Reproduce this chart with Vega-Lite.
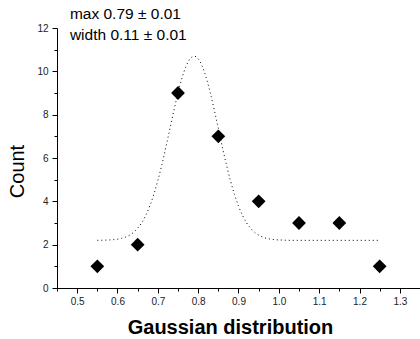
{
  "$schema": "https://vega.github.io/schema/vega-lite/v6.json",
  "width": 363,
  "height": 260,
  "autosize": {"type": "none"},
  "padding": {"left": 57, "top": 28, "right": 0, "bottom": 51},
  "background": "white",
  "config": {
    "view": {"stroke": null},
    "font": "Liberation Sans",
    "axis": {
      "grid": false,
      "domainColor": "black",
      "domainWidth": 1,
      "tickColor": "black",
      "tickWidth": 1,
      "labelFont": "Liberation Sans",
      "labelFontSize": 10,
      "labelColor": "#222",
      "titleFont": "Liberation Sans",
      "titleColor": "black"
    }
  },
  "datasets": {
    "points": [
      {"x": 0.55, "count": 1},
      {"x": 0.65, "count": 2},
      {"x": 0.75, "count": 9},
      {"x": 0.85, "count": 7},
      {"x": 0.95, "count": 4},
      {"x": 1.05, "count": 3},
      {"x": 1.15, "count": 3},
      {"x": 1.25, "count": 1}
    ],
    "fit": [
      {"x": 0.55, "count": 2.20}, {"x": 0.57, "count": 2.21}, {"x": 0.59, "count": 2.23},
      {"x": 0.61, "count": 2.29}, {"x": 0.62, "count": 2.35}, {"x": 0.63, "count": 2.44},
      {"x": 0.64, "count": 2.57}, {"x": 0.65, "count": 2.76}, {"x": 0.66, "count": 3.01},
      {"x": 0.67, "count": 3.35}, {"x": 0.68, "count": 3.78}, {"x": 0.69, "count": 4.32},
      {"x": 0.70, "count": 4.96}, {"x": 0.71, "count": 5.69}, {"x": 0.72, "count": 6.50},
      {"x": 0.73, "count": 7.36}, {"x": 0.74, "count": 8.21}, {"x": 0.75, "count": 9.01},
      {"x": 0.76, "count": 9.70}, {"x": 0.77, "count": 10.24}, {"x": 0.78, "count": 10.58},
      {"x": 0.79, "count": 10.70}, {"x": 0.80, "count": 10.58}, {"x": 0.81, "count": 10.24},
      {"x": 0.82, "count": 9.70}, {"x": 0.83, "count": 9.01}, {"x": 0.84, "count": 8.21},
      {"x": 0.85, "count": 7.36}, {"x": 0.86, "count": 6.50}, {"x": 0.87, "count": 5.69},
      {"x": 0.88, "count": 4.96}, {"x": 0.89, "count": 4.32}, {"x": 0.90, "count": 3.78},
      {"x": 0.91, "count": 3.35}, {"x": 0.92, "count": 3.01}, {"x": 0.93, "count": 2.76},
      {"x": 0.94, "count": 2.57}, {"x": 0.95, "count": 2.44}, {"x": 0.96, "count": 2.35},
      {"x": 0.97, "count": 2.29}, {"x": 0.99, "count": 2.23}, {"x": 1.01, "count": 2.21},
      {"x": 1.03, "count": 2.20}, {"x": 1.25, "count": 2.20}
    ]
  },
  "resolve": {"axis": {"x": "independent", "y": "independent"}},
  "layer": [
    {
      "data": {"name": "fit"},
      "mark": {"type": "line", "color": "black", "strokeWidth": 1, "strokeDash": [1, 3], "interpolate": "monotone"},
      "encoding": {
        "x": {
          "field": "x", "type": "quantitative",
          "scale": {"domain": [0.45, 1.35], "nice": false, "zero": false},
          "axis": {
            "orient": "bottom",
            "title": "Gaussian distribution",
            "titleFontSize": 20,
            "titleFontWeight": "bold",
            "titleX": 173,
            "titleY": 45,
            "titleBaseline": "alphabetic",
            "values": [0.5, 0.6, 0.7, 0.8, 0.9, 1.0, 1.1, 1.2, 1.3],
            "format": ".1f",
            "tickSize": 5,
            "labelPadding": 3,
            "labelFlush": false,
            "labelOverlap": false
          }
        },
        "y": {
          "field": "count", "type": "quantitative",
          "scale": {"domain": [0, 12], "nice": false},
          "axis": {
            "orient": "left",
            "title": "Count",
            "titleFontSize": 20,
            "titleFontWeight": "normal",
            "titleAngle": -90,
            "titleX": -34,
            "titleY": 143,
            "titleBaseline": "alphabetic",
            "values": [0, 2, 4, 6, 8, 10, 12],
            "format": "d",
            "tickSize": 5,
            "labelPadding": 4,
            "labelFlush": false,
            "labelOverlap": false
          }
        }
      }
    },
    {
      "data": {"name": "points"},
      "mark": {"type": "point", "shape": "diamond", "filled": true, "color": "black", "opacity": 1, "size": 190},
      "encoding": {
        "x": {
          "field": "x", "type": "quantitative",
          "axis": {
            "orient": "bottom",
            "title": null,
            "labels": false,
            "domain": false,
            "tickSize": 3,
            "values": [0.45, 0.55, 0.65, 0.75, 0.85, 0.95, 1.05, 1.15, 1.25, 1.35]
          }
        },
        "y": {
          "field": "count", "type": "quantitative",
          "axis": {
            "orient": "left",
            "title": null,
            "labels": false,
            "domain": false,
            "tickSize": 3,
            "values": [1, 3, 5, 7, 9, 11]
          }
        }
      }
    },
    {
      "data": {"values": [{"label": "max 0.79 ± 0.01", "lx": 0.482, "ly": 12.41}, {"label": "width 0.11 ± 0.01", "lx": 0.482, "ly": 11.44}]},
      "mark": {"type": "text", "align": "left", "baseline": "alphabetic", "fontSize": 15.5, "font": "Liberation Sans", "color": "black"},
      "encoding": {
        "x": {"field": "lx", "type": "quantitative", "axis": null},
        "y": {"field": "ly", "type": "quantitative", "axis": null},
        "text": {"field": "label"}
      }
    }
  ]
}
